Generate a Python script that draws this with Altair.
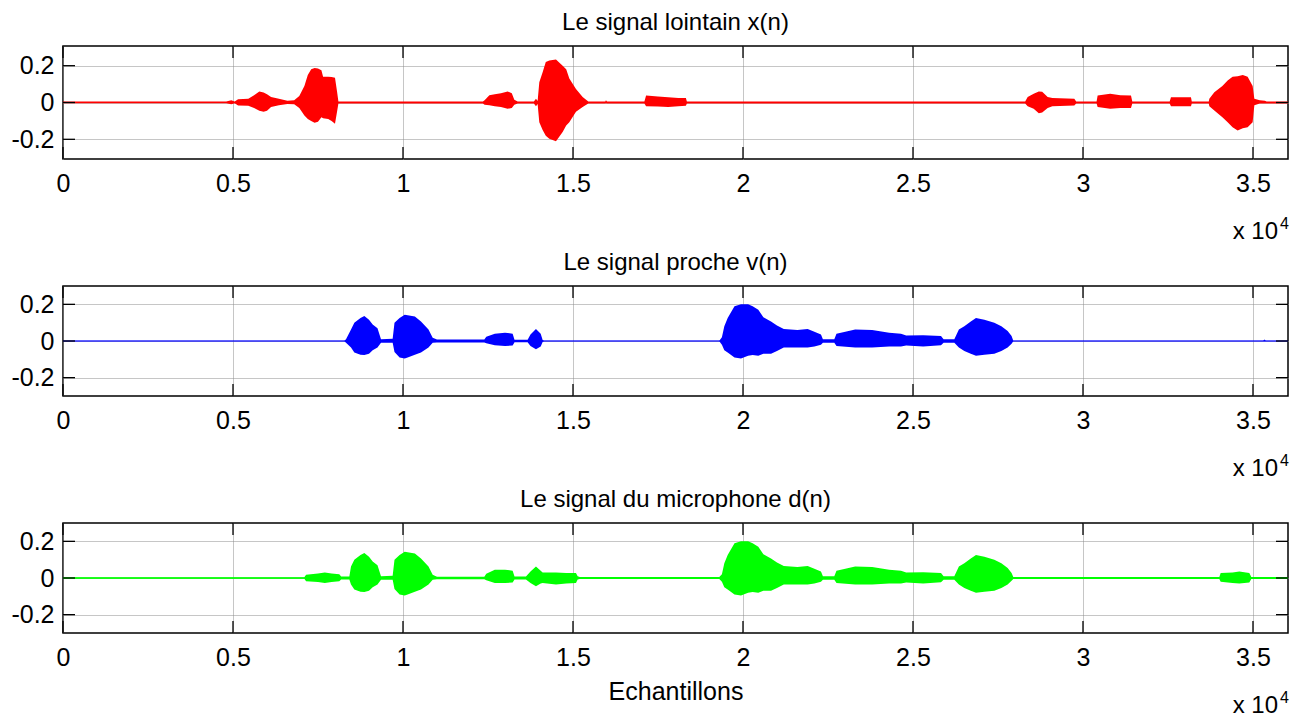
import altair as alt
import pandas as pd

FONT = "Liberation Sans"
W = 1225
XMAX = 36030

xtick_vals = [0, 5000, 10000, 15000, 20000, 25000, 30000, 35000]
ytick_vals = [-0.2, 0.0, 0.2]

titles = ["Le signal lointain x(n)", "Le signal proche v(n)", "Le signal du microphone d(n)"]
colors = ["#ff0000", "#0000ff", "#00ff00"]
x_label = "Echantillons"

# --- far-end signal x(n): envelope (sample index, upper, lower)
x_n = [0, 4800, 4950, 5050, 5150, 5450, 5620, 5775, 5900, 6000, 6120, 6350, 6600, 6800, 6950,
       7100, 7200, 7300, 7400, 7500, 7600, 7650, 7800, 7900, 8000, 8060, 8100,
       12350, 12400, 12540, 12700, 12882, 13078, 13200, 13274, 13372, 13850, 13911, 13960,
       14009, 14107, 14200, 14303, 14500, 14696, 14800, 14892, 15088, 15284, 15450,
       15950, 15970, 16000, 17100, 17150, 17500, 17800, 18100, 18320, 18350,
       28300, 28373, 28550, 28700, 28800, 28961, 29100, 29745, 29800,
       30400, 30431, 30800, 31100, 31412, 31450, 32550, 32588, 33176, 33200,
       33700, 33716, 33863, 34100, 34255, 34400, 34549, 34700, 34843, 34990, 35040,
       35200, 35350, 35400, 36030]
x_hi = [0.005, 0.005, 0.012, 0.005, 0.018, 0.020, 0.040, 0.060, 0.055, 0.045, 0.030, 0.020, 0.010, 0.012, 0.035,
        0.090, 0.150, 0.180, 0.188, 0.185, 0.175, 0.140, 0.140, 0.138, 0.135, 0.060, 0.006,
        0.006, 0.012, 0.040, 0.045, 0.050, 0.060, 0.050, 0.015, 0.006, 0.006, 0.020, 0.008,
        0.110, 0.165, 0.220, 0.228, 0.234, 0.200, 0.180, 0.130, 0.074, 0.030, 0.006,
        0.006, 0.012, 0.006, 0.006, 0.038, 0.032, 0.028, 0.024, 0.024, 0.006,
        0.006, 0.030, 0.047, 0.060, 0.058, 0.030, 0.025, 0.020, 0.006,
        0.006, 0.038, 0.047, 0.040, 0.038, 0.006, 0.006, 0.029, 0.029, 0.006,
        0.006, 0.020, 0.056, 0.090, 0.120, 0.140, 0.143, 0.150, 0.140, 0.090, 0.020,
        0.012, 0.010, 0.006, 0.006]
x_lo = [-0.004, -0.004, -0.010, -0.004, -0.016, -0.018, -0.030, -0.045, -0.050, -0.045, -0.025, -0.015, -0.008, -0.010, -0.030,
        -0.070, -0.090, -0.100, -0.110, -0.105, -0.080, -0.085, -0.090, -0.100, -0.115, -0.050, -0.005,
        -0.005, -0.012, -0.015, -0.020, -0.025, -0.034, -0.030, -0.012, -0.005, -0.005, -0.020, -0.008,
        -0.107, -0.150, -0.180, -0.197, -0.210, -0.160, -0.125, -0.107, -0.050, -0.025, -0.005,
        -0.005, -0.004, -0.005, -0.005, -0.020, -0.022, -0.025, -0.020, -0.018, -0.005,
        -0.005, -0.020, -0.034, -0.058, -0.055, -0.030, -0.020, -0.016, -0.005,
        -0.005, -0.025, -0.034, -0.030, -0.030, -0.005, -0.005, -0.020, -0.020, -0.005,
        -0.005, -0.020, -0.043, -0.080, -0.107, -0.134, -0.152, -0.140, -0.134, -0.107, -0.015,
        -0.005, -0.005, -0.005, -0.005]

# --- near-end signal v(n)
v_n = [0, 8275, 8324, 8471, 8569, 8750, 8863, 9000, 9108, 9250, 9353, 9696, 9750, 9900, 10050,
       10137, 10350, 10529, 10750, 10873, 11000, 12392, 12450, 12700, 13000, 13225, 13280, 13666,
       13750, 13911, 14050, 14107, 14150, 19303, 19380, 19451, 19550, 19750, 19941, 20150, 20284,
       20450, 20600, 20824, 21000, 21200, 21600, 21902, 22100, 22294, 22350, 22686, 22750, 23300,
       23800, 24300, 24647, 24800, 25300, 25824, 25900, 26216, 26350, 26510, 26700, 26853, 27100,
       27392, 27600, 27784, 27900, 27950, 35300, 35333, 35380, 36030]
v_hi = [0.002, 0.002, 0.010, 0.0625, 0.100, 0.125, 0.137, 0.116, 0.090, 0.070, 0.010, 0.012, 0.100, 0.125, 0.143,
        0.140, 0.134, 0.107, 0.0625, 0.018, 0.008, 0.008, 0.023, 0.040, 0.045, 0.040, 0.007, 0.007,
        0.036, 0.066, 0.040, 0.005, 0.002, 0.002, 0.020, 0.080, 0.125, 0.190, 0.200, 0.200, 0.190,
        0.170, 0.130, 0.107, 0.084, 0.066, 0.060, 0.066, 0.050, 0.036, 0.010, 0.010, 0.040, 0.0625,
        0.060, 0.045, 0.040, 0.030, 0.032, 0.027, 0.010, 0.010, 0.0625, 0.080, 0.107, 0.125, 0.116,
        0.100, 0.080, 0.054, 0.027, 0.002, 0.002, 0.008, 0.002, 0.002]
v_lo = [-0.002, -0.002, -0.010, -0.036, -0.063, -0.075, -0.077, -0.070, -0.050, -0.036, -0.010, -0.010, -0.060, -0.090, -0.095,
        -0.090, -0.075, -0.0625, -0.036, -0.010, -0.008, -0.008, -0.012, -0.023, -0.027, -0.025, -0.007, -0.007,
        -0.027, -0.045, -0.030, -0.005, -0.002, -0.002, -0.020, -0.050, -0.0625, -0.090, -0.095, -0.080, -0.077,
        -0.080, -0.070, -0.070, -0.054, -0.036, -0.036, -0.036, -0.030, -0.020, -0.010, -0.010, -0.027, -0.036,
        -0.035, -0.030, -0.030, -0.025, -0.030, -0.023, -0.010, -0.010, -0.036, -0.054, -0.070, -0.080, -0.075,
        -0.070, -0.054, -0.036, -0.015, -0.002, -0.002, -0.002, -0.002, -0.002]

# --- microphone signal d(n)
d_n = [0, 7098, 7150, 7500, 7700, 7900, 8127, 8180, 8422, 8471, 8569, 8750, 8863, 9000, 9108, 9250,
       9353, 9696, 9750, 9900, 10050, 10137, 10350, 10529, 10750, 10873, 11000, 12392, 12450, 12700,
       13000, 13225, 13280, 13617, 13750, 13911, 14050, 14107, 14500, 14800, 15088, 15137, 15200,
       19303, 19380, 19451, 19550, 19750, 19941, 20150, 20284, 20450, 20600, 20824, 21000, 21200,
       21600, 21902, 22100, 22294, 22350, 22686, 22750, 23300, 23800, 24300, 24647, 24800, 25300,
       25824, 25900, 26216, 26350, 26510, 26700, 26853, 27100, 27392, 27600, 27784, 27900, 27950,
       34010, 34050, 34400, 34600, 34892, 34950, 36030]
d_hi = [0.004, 0.004, 0.018, 0.025, 0.030, 0.025, 0.020, 0.008, 0.008, 0.0625, 0.100, 0.125, 0.137, 0.116, 0.090, 0.070,
        0.010, 0.012, 0.100, 0.125, 0.143, 0.140, 0.134, 0.107, 0.0625, 0.018, 0.007, 0.007, 0.023, 0.045,
        0.045, 0.040, 0.008, 0.008, 0.036, 0.0625, 0.040, 0.030, 0.030, 0.027, 0.027, 0.010, 0.005,
        0.005, 0.020, 0.080, 0.125, 0.190, 0.200, 0.200, 0.190, 0.170, 0.130, 0.107, 0.084, 0.066,
        0.060, 0.066, 0.050, 0.036, 0.010, 0.010, 0.040, 0.0625, 0.060, 0.045, 0.040, 0.030, 0.032,
        0.027, 0.010, 0.010, 0.0625, 0.080, 0.107, 0.125, 0.116, 0.100, 0.080, 0.054, 0.027, 0.005,
        0.005, 0.027, 0.030, 0.036, 0.027, 0.005, 0.005]
d_lo = [-0.004, -0.004, -0.018, -0.022, -0.027, -0.022, -0.018, -0.008, -0.008, -0.036, -0.063, -0.075, -0.077, -0.070, -0.050, -0.036,
        -0.010, -0.010, -0.060, -0.090, -0.095, -0.090, -0.075, -0.0625, -0.036, -0.010, -0.007, -0.007, -0.012, -0.027,
        -0.027, -0.025, -0.008, -0.008, -0.027, -0.045, -0.030, -0.027, -0.036, -0.030, -0.027, -0.008, -0.005,
        -0.005, -0.020, -0.050, -0.0625, -0.090, -0.095, -0.080, -0.077, -0.080, -0.070, -0.070, -0.054, -0.036,
        -0.036, -0.036, -0.030, -0.020, -0.010, -0.010, -0.027, -0.036, -0.035, -0.030, -0.030, -0.025, -0.030,
        -0.023, -0.010, -0.010, -0.036, -0.054, -0.070, -0.080, -0.075, -0.070, -0.054, -0.036, -0.015, -0.005,
        -0.005, -0.020, -0.027, -0.030, -0.025, -0.005, -0.005]

LABEL_FS = 25
TITLE_FS = 24


def panel(n, hi, lo, color, title, h, ydom, xtitle=None):
    df = pd.DataFrame({"n": n, "hi": hi, "lo": lo})
    xs = alt.Scale(domain=[0, XMAX], nice=False, zero=False)
    ys = alt.Scale(domain=ydom, nice=False, zero=False)
    grid = dict(grid=True, gridColor="#8c8c8c", gridDash=[1, 1], gridWidth=1, ticks=False, domain=False,
                labelFont=FONT, labelFontSize=LABEL_FS, labelColor="black")
    if xtitle:
        xaxis = alt.Axis(values=xtick_vals, labelExpr="datum.value / 10000", labelFlush=False,
                         labelOverlap=False, labelPadding=12, title=xtitle, titleFont=FONT,
                         titleFontSize=LABEL_FS, titleFontWeight="normal", titleColor="black",
                         titleBaseline="alphabetic", titleY=66, **grid)
    else:
        xaxis = alt.Axis(values=xtick_vals, labelExpr="datum.value / 10000", labelFlush=False,
                         labelOverlap=False, labelPadding=12, title=None, **grid)
    yaxis = alt.Axis(values=ytick_vals, labelPadding=9, title=None,
                     labelExpr="datum.value == 0 ? '0' : (datum.value < 0 ? '-' : '') + format(abs(datum.value), '.1f')",
                     **grid)

    sig = alt.Chart(df).mark_area(color=color, opacity=1, interpolate="linear").encode(
        x=alt.X("n:Q", scale=xs, axis=xaxis),
        y=alt.Y("lo:Q", scale=ys, axis=yaxis),
        y2="hi:Q",
    )
    base = alt.Chart(pd.DataFrame({"lo": [0.0]})).mark_rule(color=color, strokeWidth=1).encode(
        y=alt.Y("lo:Q", scale=ys), x=alt.value(0), x2=alt.value(W)
    )
    xt = pd.DataFrame({"n": xtick_vals})
    xt_top = alt.Chart(xt).mark_rule(color="black", strokeWidth=1.3).encode(
        x=alt.X("n:Q", scale=xs), y=alt.value(0), y2=alt.value(12))
    xt_bot = alt.Chart(xt).mark_rule(color="black", strokeWidth=1.3).encode(
        x=alt.X("n:Q", scale=xs), y=alt.value(h - 12), y2=alt.value(h))
    yt = pd.DataFrame({"lo": ytick_vals})
    yt_l = alt.Chart(yt).mark_rule(color="black", strokeWidth=1.3).encode(
        y=alt.Y("lo:Q", scale=ys), x=alt.value(0), x2=alt.value(12))
    yt_r = alt.Chart(yt).mark_rule(color="black", strokeWidth=1.3).encode(
        y=alt.Y("lo:Q", scale=ys), x=alt.value(W - 12), x2=alt.value(W))
    one = pd.DataFrame({"a": [0]})
    exp1 = alt.Chart(one).mark_text(text="x 10", align="right", baseline="alphabetic", font=FONT,
                                    fontSize=24, color="black").encode(
        x=alt.value(W - 10), y=alt.value(h + 80))
    exp2 = alt.Chart(one).mark_text(text="4", align="left", baseline="alphabetic", font=FONT,
                                    fontSize=16, color="black").encode(
        x=alt.value(W - 8), y=alt.value(h + 70))
    return alt.layer(sig, base, xt_top, xt_bot, yt_l, yt_r, exp1, exp2).properties(
        width=W, height=h,
        title=alt.TitleParams(text=title, font=FONT, fontSize=TITLE_FS, fontWeight="normal",
                              color="black", offset=10, anchor="middle"),
    )


p1 = panel(x_n, x_hi, x_lo, colors[0], titles[0], 113, [-0.307, 0.307])
p2 = panel(v_n, v_hi, v_lo, colors[1], titles[1], 110, [-0.3, 0.3])
p3 = panel(d_n, d_hi, d_lo, colors[2], titles[2], 110, [-0.3, 0.3], xtitle=x_label)

chart = alt.vconcat(p1, p2, p3, spacing=5).properties(
    padding={"left": 10, "top": 10, "right": 0, "bottom": 0},
    background="white",
).configure_view(stroke="black", strokeWidth=1.5)

chart.save("out.html", embed_options={"renderer": "svg", "actions": False})
